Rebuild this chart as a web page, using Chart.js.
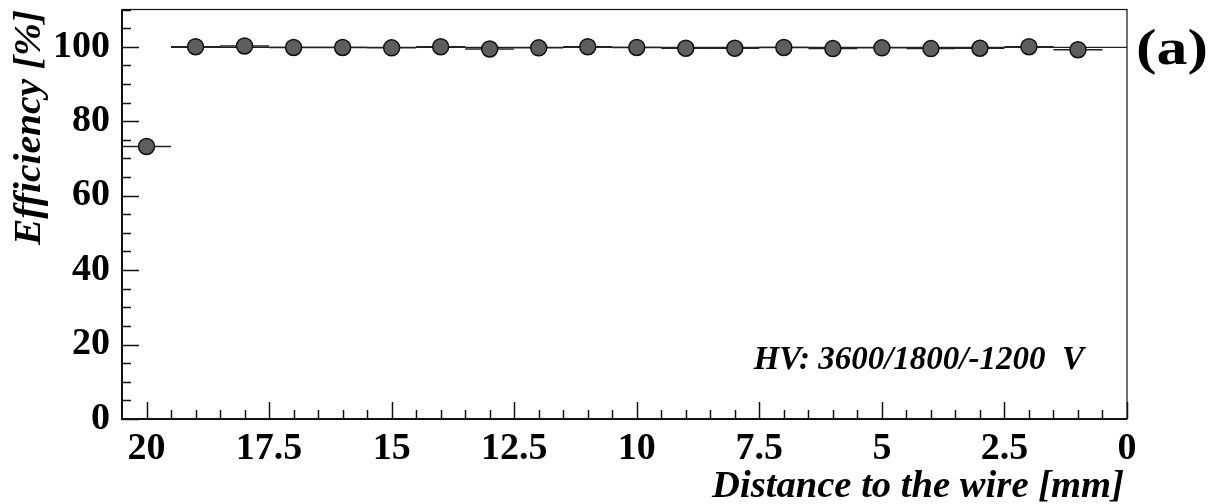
<!DOCTYPE html>
<html lang="en">
<head>
  <meta charset="UTF-8" />
  <title>Efficiency vs distance to the wire</title>
  <script src="https://cdn.jsdelivr.net/npm/chart.js"></script>
  <style>
    html, body { margin: 0; padding: 0; background: #fff; }
  </style>
</head>
<body>

<canvas id="effChart" width="1216" height="504"></canvas>

<script>
// distance to the wire [mm] and the measured efficiency [%]
const distance = [20, 19, 18, 17, 16, 15, 14, 13, 12, 11, 10, 9, 8, 7, 6, 5, 4, 3, 2, 1];
const efficiency = [73.2, 100.0, 100.2, 99.8, 99.8, 99.7, 100.0, 99.4, 99.7, 100.0,
                    99.8, 99.6, 99.6, 99.8, 99.5, 99.7, 99.5, 99.6, 100.0, 99.2];
const binHalfWidth = 0.5;

// flat level drawn through the plateau
const plateauX = [19.5, 0];
const plateauY = [99.8, 99.8];

const xLabels = [20, 17.5, 15, 12.5, 10, 7.5, 5, 2.5, 0];
const yLabels = [0, 20, 40, 60, 80, 100];

const serif = '"Liberation Serif", "Times New Roman", serif';

// draw text squeezed or stretched to a given width
function fitText(ctx, text, x, y, width, align) {
  const w = ctx.measureText(text).width;
  const sx = width / w;
  ctx.save();
  ctx.translate(x, y);
  ctx.scale(sx, 1);
  ctx.textAlign = align;
  ctx.fillText(text, 0, 0);
  ctx.restore();
}

const frameAndTicks = {
  id: 'frameAndTicks',
  beforeDatasetsDraw(chart) {
    const {ctx, chartArea: a, scales: {x, y}} = chart;
    ctx.save();
    ctx.strokeStyle = '#111';

    // frame
    ctx.lineWidth = 1.2;
    ctx.strokeRect(a.left, a.top, a.right - a.left, a.bottom - a.top);
    ctx.lineWidth = 2;
    ctx.beginPath();
    ctx.moveTo(a.left, a.top);
    ctx.lineTo(a.left, a.bottom);
    ctx.lineTo(a.right, a.bottom);
    ctx.stroke();

    // x ticks every 0.5 mm, long ones every 2.5 mm
    ctx.lineWidth = 1.5;
    for (let i = 0; i <= 40; i++) {
      const px = Math.round(x.getPixelForValue(i * 0.5)) + 0.5;
      const len = i % 5 === 0 ? 17 : 9;
      ctx.beginPath();
      ctx.moveTo(px, a.bottom);
      ctx.lineTo(px, a.bottom - len);
      ctx.stroke();
    }
    // y ticks every 5 %, long ones every 20 %
    for (let i = 0; i <= 22; i++) {
      const py = Math.round(y.getPixelForValue(i * 5)) + 0.5;
      const len = i % 4 === 0 ? 17 : 9;
      ctx.beginPath();
      ctx.moveTo(a.left, py);
      ctx.lineTo(a.left + len, py);
      ctx.stroke();
    }

    // horizontal error bars (bin width)
    ctx.lineWidth = 1.4;
    ctx.strokeStyle = '#222';
    distance.forEach((d, i) => {
      const py = y.getPixelForValue(efficiency[i]);
      ctx.beginPath();
      ctx.moveTo(x.getPixelForValue(Math.min(d + binHalfWidth, x.max)), py);
      ctx.lineTo(x.getPixelForValue(d - binHalfWidth), py);
      ctx.stroke();
    });
    ctx.restore();
  },
  afterDraw(chart) {
    const {ctx} = chart;
    ctx.save();
    ctx.fillStyle = '#000';
    ctx.textBaseline = 'alphabetic';

    // axis titles
    ctx.font = 'italic bold 38px ' + serif;
    fitText(ctx, 'Distance to the wire [mm]', 1124, 497, 412, 'right');

    ctx.save();
    ctx.translate(40, 10);
    ctx.rotate(-Math.PI / 2);
    ctx.font = 'italic bold 38px ' + serif;
    fitText(ctx, 'Efficiency [%]', 0, 0, 235, 'right');
    ctx.restore();

    // panel tag and HV setting
    ctx.font = 'bold 50px ' + serif;
    fitText(ctx, '(a)', 1136, 64, 72, 'left');

    ctx.font = 'italic bold 33px ' + serif;
    ctx.textAlign = 'right';
    ctx.fillText('HV: 3600/1800/-1200  V', 1084, 369);
    ctx.restore();
  }
};

new Chart(document.getElementById('effChart'), {
  type: 'scatter',
  data: {
    datasets: [
      {
        type: 'line',
        data: plateauX.map((v, i) => ({x: v, y: plateauY[i]})),
        borderColor: '#222',
        borderWidth: 1.3,
        pointRadius: 0,
        fill: false,
        order: 2
      },
      {
        data: distance.map((d, i) => ({x: d, y: efficiency[i]})),
        backgroundColor: '#5e5e5e',
        borderColor: '#111',
        borderWidth: 1.5,
        pointRadius: 8,
        pointHoverRadius: 8,
        order: 1
      }
    ]
  },
  options: {
    responsive: false,
    animation: false,
    devicePixelRatio: 1,
    layout: { padding: { top: 9, right: 89, left: 0, bottom: 0 } },
    plugins: { legend: { display: false }, tooltip: { enabled: false } },
    scales: {
      x: {
        type: 'linear',
        reverse: true,
        min: 0,
        max: 20.5,
        grid: { display: false, drawTicks: false },
        border: { display: false },
        afterBuildTicks: s => { s.ticks = xLabels.map(v => ({value: v})); },
        afterFit: s => { s.height = 85; s.paddingLeft = 0; s.paddingRight = 0; },
        ticks: {
          autoSkip: false,
          maxRotation: 0,
          padding: 7,
          color: '#000',
          font: { family: serif, size: 38, weight: 'bold' }
        }
      },
      y: {
        min: 0,
        max: 110,
        grid: { display: false, drawTicks: false },
        border: { display: false },
        afterBuildTicks: s => { s.ticks = yLabels.map(v => ({value: v})); },
        afterFit: s => { s.width = 122; s.paddingTop = 0; s.paddingBottom = 0; },
        ticks: {
          padding: 12,
          color: '#000',
          font: { family: serif, size: 38, weight: 'bold' }
        }
      }
    }
  },
  plugins: [frameAndTicks]
});
</script>

</body>
</html>
